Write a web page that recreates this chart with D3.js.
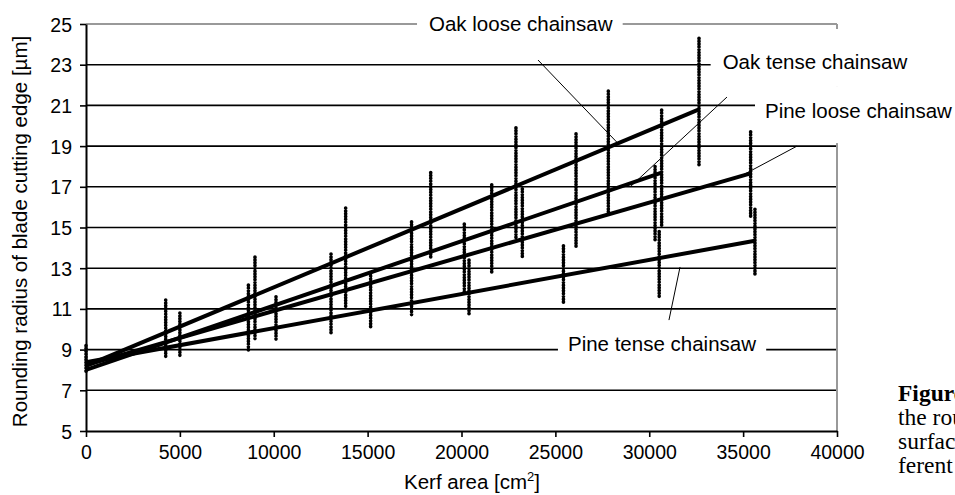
<!DOCTYPE html>
<html><head><meta charset="utf-8">
<script src="https://cdn.jsdelivr.net/npm/d3@7"></script>
<style>body{margin:0;background:#fff;overflow:hidden} svg{display:block}</style>
</head><body><svg id="c" width="955" height="495"></svg>
<script>
// ---- data ----
const xTicks = [0, 5000, 10000, 15000, 20000, 25000, 30000, 35000, 40000];
const yTicks = [5, 7, 9, 11, 13, 15, 17, 19, 21, 23, 25];
// measured columns: [kerf area, min radius, max radius]
const columns = [
  [0, 7.9, 9.2], [4245, 8.6, 11.44], [5000, 8.7, 10.8], [8650, 8.9, 12.17],
  [9000, 9.47, 13.55], [10120, 9.5, 11.6], [13050, 9.75, 13.7], [13830, 11.05, 15.96],
  [15160, 10.05, 12.76], [17340, 10.7, 15.28], [18360, 13.45, 17.7], [20150, 11.85, 15.17],
  [20400, 10.7, 13.4], [21610, 12.7, 17.1], [22900, 14.4, 19.9], [23240, 13.5, 16.9],
  [25430, 11.28, 14.1], [26100, 14.06, 19.6], [27820, 15.78, 21.7], [30310, 14.4, 18.0],
  [30660, 15.04, 20.77], [30530, 11.6, 14.8], [32650, 18.07, 24.3], [35400, 15.53, 19.7],
  [35630, 12.67, 15.9]
];
const seriesNames = ["Oak loose chainsaw", "Oak tense chainsaw", "Pine loose chainsaw", "Pine tense chainsaw"];
const seriesStartY = [8.2, 8.0, 8.24, 8.38];
const seriesEndX = [32650, 30660, 35400, 35630];
const seriesEndY = [20.8, 17.7, 17.66, 14.35];
// label anchors (left edge x, vertical centre y) in data units
const labelX = [18270, 33910, 36165, 25670];
const labelY = [25.03, 23.14, 20.76, 9.27];
// leader lines from label to trend line
const leaderFrom = [[24075, 23.23], [34140, 21.41], [37870, 19.0], [31640, 13.06]];
const leaderTo = [[28265, 19.2], [28975, 16.99], [34990, 17.58], [31050, 10.45]];
const xTitleParts = ["Kerf area [cm", "2", "]"];
const yTitle = "Rounding radius of blade cutting edge [µm]";
const caption = ["Figure", "the rounding", "surface", "ferent"];

// ---- drawing ----
const svg = d3.select("#c");
const x = d3.scaleLinear().domain([0, 40000]).range([86, 837]);
const y = d3.scaleLinear().domain([5, 25]).range([431, 24]);
const sans = "'Liberation Sans', Arial, sans-serif";

// gridlines
svg.append("g").selectAll("line").data(yTicks.filter(v => v > 5 && v < 25)).join("line")
  .attr("x1", x(0)).attr("x2", x(40000)).attr("y1", d => y(d)).attr("y2", d => y(d))
  .attr("stroke", "#000").attr("stroke-width", 1.6);
// top & right border (grey)
svg.append("line").attr("x1", x(0)).attr("x2", x(40000)).attr("y1", y(25)).attr("y2", y(25))
  .attr("stroke", "#999").attr("stroke-width", 2);
svg.append("line").attr("x1", x(40000)).attr("x2", x(40000)).attr("y1", y(25)).attr("y2", y(5))
  .attr("stroke", "#999").attr("stroke-width", 2);

// axes
const xAxis = svg.append("g").attr("transform", `translate(0,${y(5)})`)
  .call(d3.axisBottom(x).tickValues(xTicks).tickFormat(d3.format("d")).tickSize(6).tickSizeOuter(0));
const yAxis = svg.append("g").attr("transform", `translate(${x(0)},0)`)
  .call(d3.axisLeft(y).tickValues(yTicks).tickFormat(d3.format("d")).tickSize(6).tickSizeOuter(0));
[xAxis, yAxis].forEach(a => {
  a.select(".domain").attr("stroke", "#000").attr("stroke-width", 2);
  a.selectAll(".tick line").attr("stroke", "#000").attr("stroke-width", 1.6);
  a.selectAll(".tick text").attr("font-family", sans).attr("font-size", 19.5).attr("fill", "#000");
});
xAxis.selectAll(".tick text").attr("dy", 0).attr("y", 28);
yAxis.selectAll(".tick text").attr("x", -14).attr("dy", "0.36em");

// data columns (dotted)
svg.append("g").selectAll("line").data(columns).join("line")
  .attr("x1", d => x(d[0])).attr("x2", d => x(d[0]))
  .attr("y1", d => y(d[2])).attr("y2", d => y(d[1]))
  .attr("stroke", "#000").attr("stroke-width", 3.6).attr("stroke-linecap", "round")
  .attr("stroke-dasharray", "0.4 2.4");

// trend lines
const lineGen = d3.line().x(d => x(d[0])).y(d => y(d[1]));
svg.append("g").selectAll("path").data(seriesNames.map((n, i) => [[0, seriesStartY[i]], [seriesEndX[i], seriesEndY[i]]]))
  .join("path").attr("d", lineGen).attr("fill", "none").attr("stroke", "#000").attr("stroke-width", 4);

// leader lines
svg.append("g").selectAll("line").data(leaderFrom.map((f, i) => [f, leaderTo[i]])).join("line")
  .attr("x1", d => x(d[0][0])).attr("y1", d => y(d[0][1]))
  .attr("x2", d => x(d[1][0])).attr("y2", d => y(d[1][1]))
  .attr("stroke", "#000").attr("stroke-width", 1);

// labels with white boxes
const lg = svg.append("g");
const texts = seriesNames.map((n, i) => lg.append("text").attr("x", x(labelX[i])).attr("y", y(labelY[i]))
  .attr("dy", "0.36em").attr("font-family", sans).attr("font-size", 20.5).attr("fill", "#000").text(n));
const bb = texts.map(t => t.node().getBBox());
const midRight = (y(labelY[1]) + y(labelY[2])) / 2;
const boxes = [
  [bb[0].x - 12, bb[0].y + 4, bb[0].width + 22, bb[0].height - 8],
  [bb[1].x - 12, y(25) + 5, 955 - bb[1].x + 12, midRight - y(25) - 5],
  [bb[2].x - 10, midRight, 955 - bb[2].x + 10, y(19) - 3 - midRight],
  [bb[3].x - 10, bb[3].y + 4, bb[3].width + 20, bb[3].height - 8]
];
boxes.forEach(b => lg.insert("rect", "text").attr("x", b[0]).attr("y", b[1]).attr("width", b[2]).attr("height", b[3]).attr("fill", "#fff"));

// axis titles
const xt = svg.append("text").attr("x", 472).attr("y", 489).attr("text-anchor", "middle")
  .attr("font-family", sans).attr("font-size", 20.5);
xt.append("tspan").text(xTitleParts[0]);
xt.append("tspan").attr("dy", -8).attr("font-size", 13).text(xTitleParts[1]);
xt.append("tspan").attr("dy", 8).text(xTitleParts[2]);
svg.append("text").attr("transform", `translate(27,${(y(5) + y(25)) / 2 + 4}) rotate(-90)`)
  .attr("text-anchor", "middle").attr("font-family", sans).attr("font-size", 20.5).text(yTitle);

// caption (continues beyond the page edge, as in the source figure)
caption.forEach((c, i) => svg.append("text").attr("x", 898).attr("y", 400.7 + i * 24.2)
  .attr("font-family", "'Liberation Serif', 'Times New Roman', serif").attr("font-size", 23.5)
  .attr("font-weight", i === 0 ? "bold" : "normal").text(c));
</script></body></html>
